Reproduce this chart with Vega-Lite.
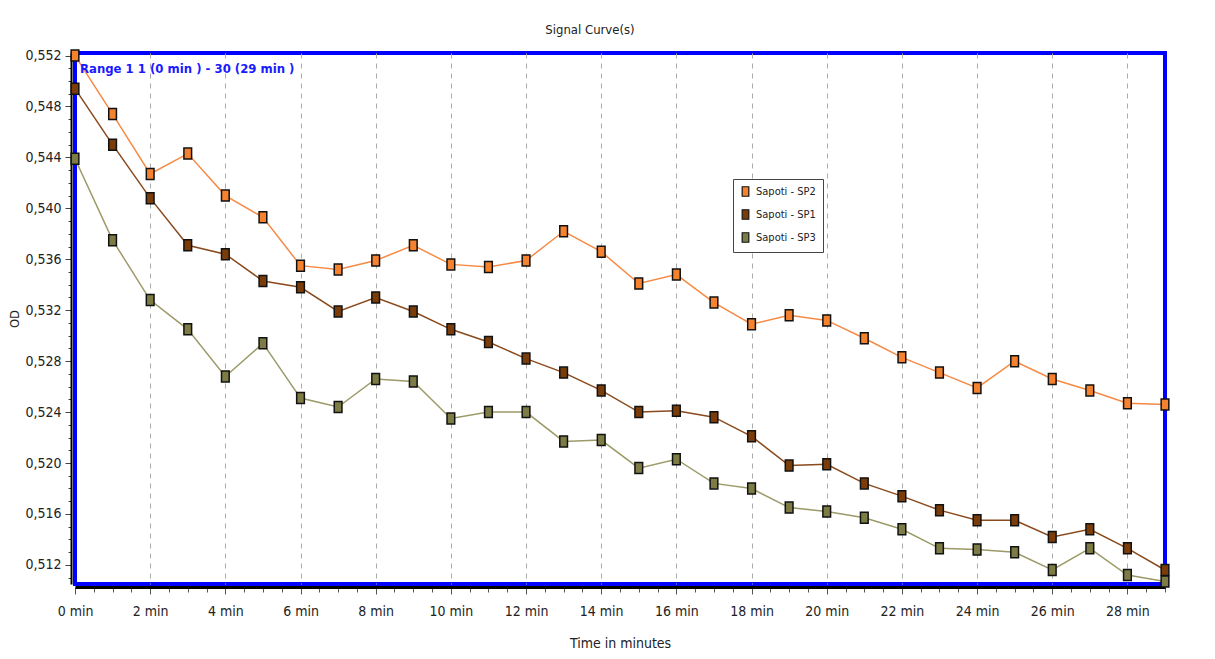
{
  "$schema": "https://vega.github.io/schema/vega-lite/v6.json",
  "width": 1090,
  "height": 531,
  "autosize": {"type": "none"},
  "padding": {"left": 75, "top": 53, "right": 50, "bottom": 75},
  "background": "white",
  "title": {"text": "Signal Curve(s)", "fontSize": 13, "fontWeight": "normal", "font": "Liberation Sans Narrow, DejaVu Sans Condensed, sans-serif", "color": "#222", "offset": 10, "dx": -30, "frame": "group"},
  "config": {
    "view": {"stroke": "#0000ff", "strokeWidth": 4},
    "font": "Liberation Sans Narrow, DejaVu Sans Condensed, sans-serif"
  },
  "datasets": {
    "curves": [
      {"t": 0, "series": "Sapoti - SP2", "od": 0.5520},
      {"t": 1, "series": "Sapoti - SP2", "od": 0.5474},
      {"t": 2, "series": "Sapoti - SP2", "od": 0.5427},
      {"t": 3, "series": "Sapoti - SP2", "od": 0.5443},
      {"t": 4, "series": "Sapoti - SP2", "od": 0.5410},
      {"t": 5, "series": "Sapoti - SP2", "od": 0.5393},
      {"t": 6, "series": "Sapoti - SP2", "od": 0.5355},
      {"t": 7, "series": "Sapoti - SP2", "od": 0.5352},
      {"t": 8, "series": "Sapoti - SP2", "od": 0.5359},
      {"t": 9, "series": "Sapoti - SP2", "od": 0.5371},
      {"t": 10, "series": "Sapoti - SP2", "od": 0.5356},
      {"t": 11, "series": "Sapoti - SP2", "od": 0.5354},
      {"t": 12, "series": "Sapoti - SP2", "od": 0.5359},
      {"t": 13, "series": "Sapoti - SP2", "od": 0.5382},
      {"t": 14, "series": "Sapoti - SP2", "od": 0.5366},
      {"t": 15, "series": "Sapoti - SP2", "od": 0.5341},
      {"t": 16, "series": "Sapoti - SP2", "od": 0.5348},
      {"t": 17, "series": "Sapoti - SP2", "od": 0.5326},
      {"t": 18, "series": "Sapoti - SP2", "od": 0.5309},
      {"t": 19, "series": "Sapoti - SP2", "od": 0.5316},
      {"t": 20, "series": "Sapoti - SP2", "od": 0.5312},
      {"t": 21, "series": "Sapoti - SP2", "od": 0.5298},
      {"t": 22, "series": "Sapoti - SP2", "od": 0.5283},
      {"t": 23, "series": "Sapoti - SP2", "od": 0.5271},
      {"t": 24, "series": "Sapoti - SP2", "od": 0.5259},
      {"t": 25, "series": "Sapoti - SP2", "od": 0.5280},
      {"t": 26, "series": "Sapoti - SP2", "od": 0.5266},
      {"t": 27, "series": "Sapoti - SP2", "od": 0.5257},
      {"t": 28, "series": "Sapoti - SP2", "od": 0.5247},
      {"t": 29, "series": "Sapoti - SP2", "od": 0.5246},
      {"t": 0, "series": "Sapoti - SP1", "od": 0.5494},
      {"t": 1, "series": "Sapoti - SP1", "od": 0.5450},
      {"t": 2, "series": "Sapoti - SP1", "od": 0.5408},
      {"t": 3, "series": "Sapoti - SP1", "od": 0.5371},
      {"t": 4, "series": "Sapoti - SP1", "od": 0.5364},
      {"t": 5, "series": "Sapoti - SP1", "od": 0.5343},
      {"t": 6, "series": "Sapoti - SP1", "od": 0.5338},
      {"t": 7, "series": "Sapoti - SP1", "od": 0.5319},
      {"t": 8, "series": "Sapoti - SP1", "od": 0.5330},
      {"t": 9, "series": "Sapoti - SP1", "od": 0.5319},
      {"t": 10, "series": "Sapoti - SP1", "od": 0.5305},
      {"t": 11, "series": "Sapoti - SP1", "od": 0.5295},
      {"t": 12, "series": "Sapoti - SP1", "od": 0.5282},
      {"t": 13, "series": "Sapoti - SP1", "od": 0.5271},
      {"t": 14, "series": "Sapoti - SP1", "od": 0.5257},
      {"t": 15, "series": "Sapoti - SP1", "od": 0.5240},
      {"t": 16, "series": "Sapoti - SP1", "od": 0.5241},
      {"t": 17, "series": "Sapoti - SP1", "od": 0.5236},
      {"t": 18, "series": "Sapoti - SP1", "od": 0.5221},
      {"t": 19, "series": "Sapoti - SP1", "od": 0.5198},
      {"t": 20, "series": "Sapoti - SP1", "od": 0.5199},
      {"t": 21, "series": "Sapoti - SP1", "od": 0.5184},
      {"t": 22, "series": "Sapoti - SP1", "od": 0.5174},
      {"t": 23, "series": "Sapoti - SP1", "od": 0.5163},
      {"t": 24, "series": "Sapoti - SP1", "od": 0.5155},
      {"t": 25, "series": "Sapoti - SP1", "od": 0.5155},
      {"t": 26, "series": "Sapoti - SP1", "od": 0.5142},
      {"t": 27, "series": "Sapoti - SP1", "od": 0.5148},
      {"t": 28, "series": "Sapoti - SP1", "od": 0.5133},
      {"t": 29, "series": "Sapoti - SP1", "od": 0.5116},
      {"t": 0, "series": "Sapoti - SP3", "od": 0.5439},
      {"t": 1, "series": "Sapoti - SP3", "od": 0.5375},
      {"t": 2, "series": "Sapoti - SP3", "od": 0.5328},
      {"t": 3, "series": "Sapoti - SP3", "od": 0.5305},
      {"t": 4, "series": "Sapoti - SP3", "od": 0.5268},
      {"t": 5, "series": "Sapoti - SP3", "od": 0.5294},
      {"t": 6, "series": "Sapoti - SP3", "od": 0.5251},
      {"t": 7, "series": "Sapoti - SP3", "od": 0.5244},
      {"t": 8, "series": "Sapoti - SP3", "od": 0.5266},
      {"t": 9, "series": "Sapoti - SP3", "od": 0.5264},
      {"t": 10, "series": "Sapoti - SP3", "od": 0.5235},
      {"t": 11, "series": "Sapoti - SP3", "od": 0.5240},
      {"t": 12, "series": "Sapoti - SP3", "od": 0.5240},
      {"t": 13, "series": "Sapoti - SP3", "od": 0.5217},
      {"t": 14, "series": "Sapoti - SP3", "od": 0.5218},
      {"t": 15, "series": "Sapoti - SP3", "od": 0.5196},
      {"t": 16, "series": "Sapoti - SP3", "od": 0.5203},
      {"t": 17, "series": "Sapoti - SP3", "od": 0.5184},
      {"t": 18, "series": "Sapoti - SP3", "od": 0.5180},
      {"t": 19, "series": "Sapoti - SP3", "od": 0.5165},
      {"t": 20, "series": "Sapoti - SP3", "od": 0.5162},
      {"t": 21, "series": "Sapoti - SP3", "od": 0.5157},
      {"t": 22, "series": "Sapoti - SP3", "od": 0.5148},
      {"t": 23, "series": "Sapoti - SP3", "od": 0.5133},
      {"t": 24, "series": "Sapoti - SP3", "od": 0.5132},
      {"t": 25, "series": "Sapoti - SP3", "od": 0.5130},
      {"t": 26, "series": "Sapoti - SP3", "od": 0.5116},
      {"t": 27, "series": "Sapoti - SP3", "od": 0.5133},
      {"t": 28, "series": "Sapoti - SP3", "od": 0.5112},
      {"t": 29, "series": "Sapoti - SP3", "od": 0.5107}
    ],
    "range": [
      {"t": 0, "od": 0.552, "label": "Range 1 1 (0 min  ) - 30 (29 min  )"}
    ]
  },
  "encoding": {
    "x": {
      "field": "t", "type": "quantitative",
      "scale": {"domain": [0, 29], "nice": false, "zero": false},
      "axis": {
        "title": "Time in minutes",
        "titleFontSize": 14, "titleFontWeight": "normal", "titleColor": "#222", "titlePadding": 18,
        "values": [0,0.5,1,1.5,2,2.5,3,3.5,4,4.5,5,5.5,6,6.5,7,7.5,8,8.5,9,9.5,10,10.5,11,11.5,12,12.5,13,13.5,14,14.5,15,15.5,16,16.5,17,17.5,18,18.5,19,19.5,20,20.5,21,21.5,22,22.5,23,23.5,24,24.5,25,25.5,26,26.5,27,27.5,28,28.5,29],
        "labelExpr": "datum.value % 2 === 0 ? datum.value + ' min' : ''",
        "labelFontSize": 14, "labelColor": "#222", "labelPadding": 10, "labelFlush": false,
        "offset": 3,
        "domainColor": "black", "domainWidth": 3,
        "tickColor": "#555", "tickSize": {"condition": {"test": "datum.value % 2 === 0", "value": 7}, "value": 5},
        "grid": true, "gridColor": "#aaaaaa", "gridDash": [5, 5], "gridWidth": 1,
        "gridOpacity": {"condition": {"test": "datum.value % 2 === 0 && datum.value > 0", "value": 1}, "value": 0}
      }
    },
    "y": {
      "field": "od", "type": "quantitative",
      "scale": {"domain": [0.5105, 0.5522], "nice": false, "zero": false},
      "axis": {
        "title": "OD",
        "titleFontSize": 13, "titleFontWeight": "normal", "titleColor": "#222", "titlePadding": 3,
        "values": [0.511,0.512,0.513,0.514,0.515,0.516,0.517,0.518,0.519,0.520,0.521,0.522,0.523,0.524,0.525,0.526,0.527,0.528,0.529,0.530,0.531,0.532,0.533,0.534,0.535,0.536,0.537,0.538,0.539,0.540,0.541,0.542,0.543,0.544,0.545,0.546,0.547,0.548,0.549,0.550,0.551,0.552],
        "labelExpr": "round(datum.value*1000) % 4 === 0 ? replace(format(datum.value, '.3f'), '.', ',') : ''",
        "labelFontSize": 14, "labelColor": "#222", "labelPadding": 4,
        "offset": 4,
        "domainColor": "black", "domainWidth": 2,
        "tickColor": "#444", "tickSize": {"condition": {"test": "round(datum.value*1000) % 4 === 0", "value": 6}, "value": 3},
        "grid": false
      }
    }
  },
  "layer": [
    {
      "data": {"name": "curves"},
      "mark": {"type": "line", "strokeWidth": 1.5, "clip": false},
      "encoding": {
        "stroke": {
          "field": "series", "type": "nominal",
          "scale": {"domain": ["Sapoti - SP1", "Sapoti - SP2", "Sapoti - SP3"], "range": ["#8a4a1c", "#f68a45", "#9c9a68"]},
          "legend": null
        }
      }
    },
    {
      "data": {"name": "curves"},
      "mark": {"type": "point", "filled": true, "opacity": 1, "shape": "M-0.7,-1L0.7,-1L0.7,1L-0.7,1Z", "size": 121, "stroke": "#111", "strokeWidth": 1.5, "clip": false},
      "encoding": {
        "fill": {
          "field": "series", "type": "nominal",
          "scale": {"domain": ["Sapoti - SP2", "Sapoti - SP1", "Sapoti - SP3"], "range": ["#f5822e", "#7a3d0a", "#7d7c45"]},
          "legend": {
            "title": null, "orient": "none", "legendX": 658, "legendY": 126,
            "strokeColor": "#444", "fillColor": "white", "padding": 7,
            "symbolType": "M-0.7,-1L0.7,-1L0.7,1L-0.7,1Z", "symbolSize": 90,
            "symbolStrokeColor": "#111", "symbolStrokeWidth": 1.2, "symbolOpacity": 1,
            "labelFontSize": 11, "labelColor": "#222", "rowPadding": 8, "labelOffset": 5
          }
        }
      }
    },
    {
      "data": {"name": "range"},
      "mark": {"type": "text", "align": "left", "baseline": "middle", "dx": 5, "dy": 13, "color": "#1a1aff", "fontWeight": "bold", "fontSize": 13},
      "encoding": {"text": {"field": "label", "type": "nominal"}}
    }
  ]
}
